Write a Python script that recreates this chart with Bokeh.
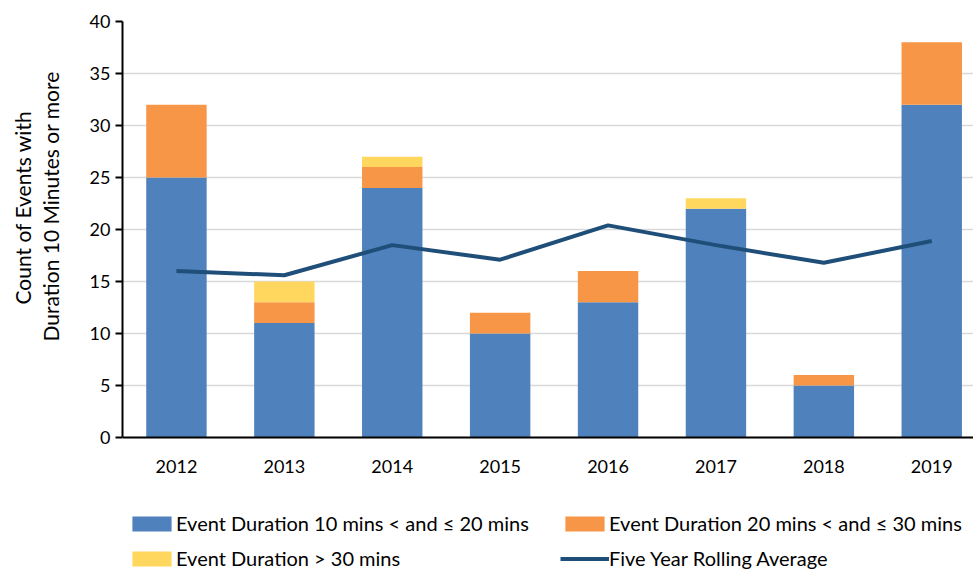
from bokeh.plotting import figure
from bokeh.models import Range1d, FixedTicker, Legend, LegendItem, Title
from bokeh.embed import file_html
from bokeh.resources import INLINE

years = ["2012", "2013", "2014", "2015", "2016", "2017", "2018", "2019"]
dur_10_20 = [25, 11, 24, 10, 13, 22, 5, 32]
dur_20_30 = [7, 2, 2, 2, 3, 0, 1, 6]
dur_gt_30 = [0, 2, 1, 0, 0, 1, 0, 0]
rolling_avg = [16.0, 15.6, 18.5, 17.1, 20.4, 18.5, 16.8, 18.9]
y_ticks = [0, 5, 10, 15, 20, 25, 30, 35, 40]
y_label_lines = ["Count of Events with", "Duration 10 Minutes or more"]

FONT = "Lato"
BLUE = "#4F81BD"
ORANGE = "#F79646"
YELLOW = "#FFD75E"
NAVY = "#1F4E79"

x = [i + 0.5 for i in range(len(years))]
base2 = dur_10_20
top2 = [a + b for a, b in zip(dur_10_20, dur_20_30)]
top3 = [a + b for a, b in zip(top2, dur_gt_30)]

# frame extends below the x axis so the legend can sit under the year labels
p = figure(width=973, height=569, output_backend="svg", toolbar_location=None,
           x_range=Range1d(0, 7.887), y_range=Range1d(-12.69, 40),
           min_border_left=122, min_border_right=0, min_border_top=21,
           min_border_bottom=0)
p.outline_line_color = None

r1 = p.vbar(x=x, bottom=0, top=dur_10_20, width=0.56, color=BLUE, line_color=None)
r2 = p.vbar(x=x, bottom=base2, top=top2, width=0.56, color=ORANGE, line_color=None)
r3 = p.vbar(x=x, bottom=top2, top=top3, width=0.56, color=YELLOW, line_color=None)
r4 = p.line(x=x, y=rolling_avg, line_color=NAVY, line_width=4)

p.xaxis.fixed_location = 0
p.xaxis.ticker = FixedTicker(ticks=x)
p.xaxis.major_label_overrides = {xx: y for xx, y in zip(x, years)}
p.xaxis.major_tick_line_color = None
p.xaxis.minor_tick_line_color = None
p.xaxis.axis_line_width = 2
p.xaxis.axis_line_color = "black"
p.xaxis.major_label_standoff = 16
p.xaxis.major_label_text_font = FONT
p.xaxis.major_label_text_font_size = "18px"
p.xaxis.major_label_text_color = "#000000"

p.yaxis.bounds = (0, 40)
p.yaxis.ticker = FixedTicker(ticks=y_ticks)
p.yaxis.axis_line_width = 2
p.yaxis.axis_line_color = "black"
p.yaxis.major_tick_out = 7
p.yaxis.major_tick_in = 0
p.yaxis.major_tick_line_width = 2
p.yaxis.minor_tick_line_color = None
p.yaxis.major_label_standoff = 5
p.yaxis.major_label_text_font = FONT
p.yaxis.major_label_text_font_size = "18px"
p.yaxis.major_label_text_color = "#000000"

# spacer between tick labels and the two-line y title
spacer = Title(text=" ", standoff=0)
spacer.text_font_size = "19px"
p.add_layout(spacer, "left")

# two-line y-axis title, each line centred on the 0..40 span
for line, standoff, offset in [(y_label_lines[1], 2, 228), (y_label_lines[0], 0, 265)]:
    t = Title(text=line, align="left", offset=offset, standoff=standoff)
    t.text_font = FONT
    t.text_font_size = "21px"
    t.text_font_style = "normal"
    t.text_color = "#000000"
    p.add_layout(t, "left")

p.xgrid.grid_line_color = None
p.ygrid.grid_line_color = "#D9D9D9"
p.ygrid.grid_line_width = 1.5


def make_legend(items, loc):
    lg = Legend(items=items, location=loc, orientation="vertical")
    lg.label_text_font = FONT
    lg.label_text_font_size = "20px"
    lg.label_text_color = "#000000"
    lg.glyph_width = 49
    lg.glyph_height = 19
    lg.label_height = 20
    lg.label_standoff = 0
    lg.spacing = 11
    lg.padding = 0
    lg.margin = 0
    lg.border_line_color = None
    lg.background_fill_alpha = 0
    return lg


leg1 = make_legend([
    LegendItem(label="Event Duration 10 mins < and \u2264 20 mins", renderers=[r1]),
    LegendItem(label="Event Duration > 30 mins", renderers=[r3]),
], (5, -1))
leg2 = make_legend([
    LegendItem(label="Event Duration 20 mins < and \u2264 30 mins", renderers=[r2]),
    LegendItem(label="Five Year Rolling Average", renderers=[r4]),
], (438, -1))
p.add_layout(leg1)
p.add_layout(leg2)

open("out.html", "w").write(file_html(p, INLINE))
